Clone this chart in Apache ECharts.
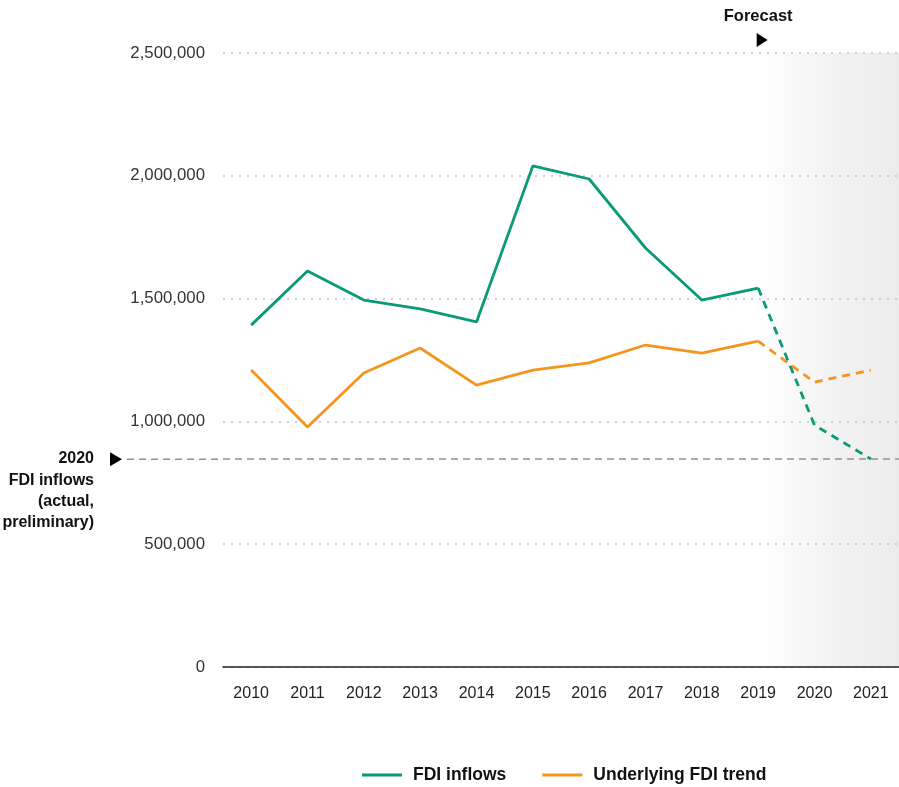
<!DOCTYPE html>
<html>
<head>
<meta charset="utf-8">
<script src="https://cdn.jsdelivr.net/npm/echarts@6/dist/echarts.min.js"></script>
<style>
html,body{margin:0;padding:0;background:#fff;}
#chart{width:899px;height:787px;}
</style>
</head>
<body>
<div id="chart"></div>
<script>
// ---- data ----
var years = ['2010','2011','2012','2013','2014','2015','2016','2017','2018','2019','2020','2021'];
var fdiActual = [1392000, 1612000, 1494000, 1458000, 1405000, 2040000, 1987000, 1706000, 1494000, 1543000, null, null];
var fdiForecast = [null, null, null, null, null, null, null, null, null, 1543000, 985000, 847000];
var trendActual = [1209000, 977000, 1197000, 1299000, 1148000, 1209000, 1238000, 1311000, 1278000, 1327000, null, null];
var trendForecast = [null, null, null, null, null, null, null, null, null, 1327000, 1160000, 1209000];
var actual2020 = 846000;
var yTicks = [0, 500000, 1000000, 1500000, 2000000, 2500000];
var forecastStart = '2019';

var GREEN = '#0a9a78';
var ORANGE = '#f5951d';
var FONT = '"Liberation Sans", Arial, sans-serif';

var chart = echarts.init(document.getElementById('chart'));

function fmt(v){ return v.toString().replace(/\B(?=(\d{3})+(?!\d))/g, ','); }

var option = {
  animation: false,
  backgroundColor: '#fff',
  textStyle: { fontFamily: FONT },
  grid: { left: 223, right: -4, top: 53, bottom: 120, containLabel: false },
  legend: {
    data: ['FDI inflows', 'Underlying FDI trend'],
    left: 362,
    top: 766,
    padding: 0,
    icon: 'rect',
    itemWidth: 40,
    itemHeight: 3,
    itemGap: 36,
    textStyle: { fontFamily: FONT, fontWeight: 'bold', fontSize: 17.5, color: '#111', padding: [0, 0, 0, 6] }
  },
  xAxis: {
    type: 'category',
    data: years,
    boundaryGap: true,
    z: 3,
    axisLine: { lineStyle: { color: '#222', width: 1.5 } },
    axisTick: { show: false },
    axisLabel: { interval: 0, margin: 19, fontSize: 16, color: '#222', fontFamily: FONT },
    splitLine: { show: false }
  },
  yAxis: {
    type: 'value',
    min: yTicks[0],
    max: yTicks[yTicks.length - 1],
    interval: yTicks[1] - yTicks[0],
    z: 3,
    axisLine: { show: false },
    axisTick: { show: false },
    axisLabel: { margin: 18, fontSize: 16.8, color: '#333', fontFamily: FONT, formatter: fmt },
    splitLine: { lineStyle: { type: [2, 6], color: '#c4c4c4', width: 1.5 } }
  },
  series: [
    {
      name: 'FDI inflows', type: 'line', data: fdiActual, symbol: 'none', z: 5,
      lineStyle: { color: GREEN, width: 2.8 }, itemStyle: { color: GREEN },
      markArea: {
        silent: true,
        z: 0,
        itemStyle: {
          color: {
            type: 'linear', x: 0, y: 0, x2: 1, y2: 0,
            colorStops: [
              { offset: 0, color: 'rgba(240,240,240,0)' },
              { offset: 0.6, color: '#f1f1f1' },
              { offset: 1, color: '#ececec' }
            ]
          }
        },
        data: [[{ xAxis: forecastStart }, {}]]
      }
    },
    {
      name: 'FDI inflows (forecast)', type: 'line', data: fdiForecast, symbol: 'none', z: 5,
      lineStyle: { color: GREEN, width: 2.8, type: [8, 6] }, itemStyle: { color: GREEN },
      markPoint: {
        silent: true,
        data: [{
          coord: [forecastStart, yTicks[yTicks.length - 1]],
          symbol: 'path://M0,0L10,6.5L0,13Z',
          symbolSize: [11, 14],
          symbolOffset: [4, -13],
          itemStyle: { color: '#000' },
          label: {
            show: true, position: 'top', distance: 8, offset: [-4, 0],
            formatter: 'Forecast', color: '#111', fontSize: 16.5, fontWeight: 'bold', fontFamily: FONT
          }
        }]
      },
      markLine: {
        silent: true,
        symbol: ['none', 'none'],
        label: { show: false },
        lineStyle: { color: '#939393', width: 1.6, type: [7, 5] },
        data: [{ yAxis: actual2020 }]
      }
    },
    {
      name: 'Underlying FDI trend', type: 'line', data: trendActual, symbol: 'none', z: 4,
      lineStyle: { color: ORANGE, width: 2.8 }, itemStyle: { color: ORANGE }
    },
    {
      name: 'Underlying FDI trend (forecast)', type: 'line', data: trendForecast, symbol: 'none', z: 4,
      lineStyle: { color: ORANGE, width: 2.8, type: [8, 6] }, itemStyle: { color: ORANGE }
    }
  ]
};
chart.setOption(option);

// Annotation for the 2020 actual value, positioned from the library's own y scale
var py = chart.convertToPixel({ yAxisIndex: 0 }, actual2020);
var x0 = chart.convertToPixel({ xAxisIndex: 0 }, years[0]);
var x1 = chart.convertToPixel({ xAxisIndex: 0 }, years[1]);
var gridLeft = x0 - (x1 - x0) / 2;
chart.setOption({
  graphic: [
    {
      type: 'line', silent: true,
      shape: { x1: 127, y1: py, x2: gridLeft, y2: py },
      style: { stroke: '#939393', lineWidth: 1.6, lineDash: [7, 5] }
    },
    {
      type: 'polygon', silent: true,
      shape: { points: [[110, py - 7], [122, py], [110, py + 7]] },
      style: { fill: '#000' }
    },
    {
      type: 'text', silent: true,
      style: {
        x: 94, y: py - 11,
        text: '2020\nFDI inflows\n(actual,\npreliminary)',
        align: 'right', verticalAlign: 'top',
        font: 'bold 16px ' + FONT,
        lineHeight: 21.3,
        fill: '#111'
      }
    }
  ]
});
</script>
</body>
</html>
